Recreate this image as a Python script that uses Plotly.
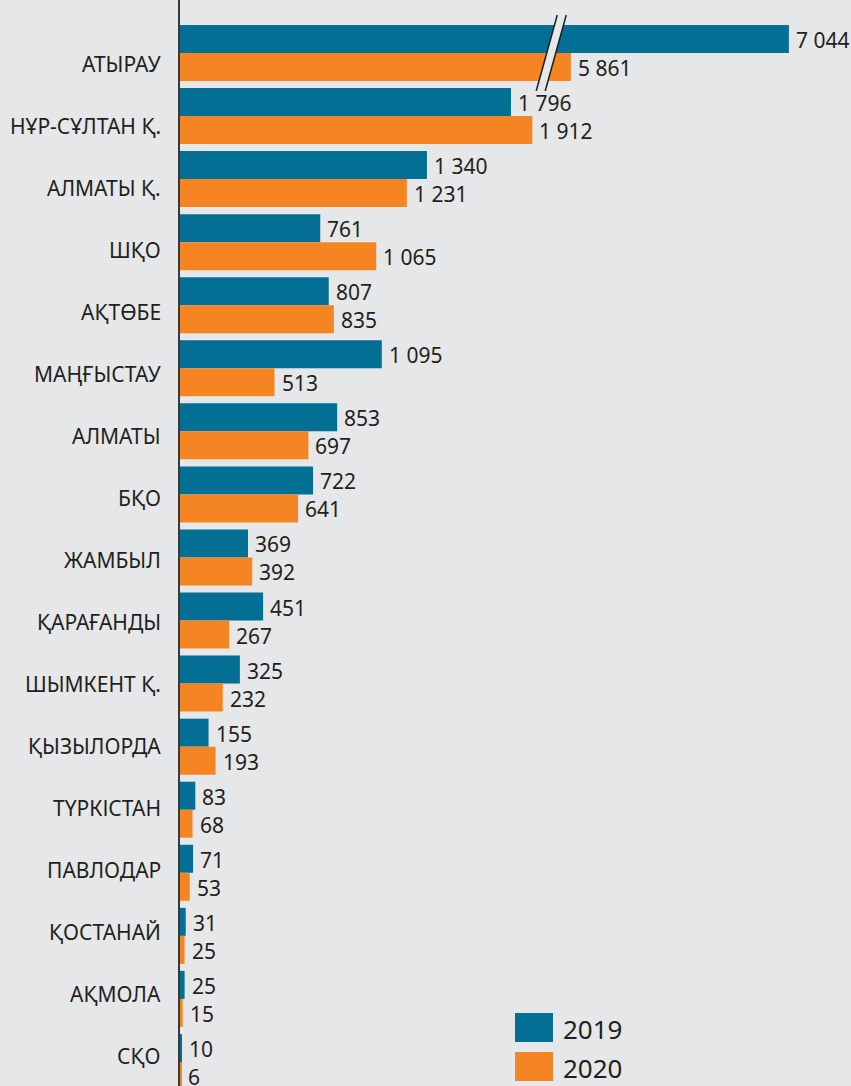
import plotly.graph_objects as go

# Regions and values by year
regions = [
    "АТЫРАУ", "НҰР-СҰЛТАН Қ.", "АЛМАТЫ Қ.", "ШҚО", "АҚТӨБЕ", "МАҢҒЫСТАУ",
    "АЛМАТЫ", "БҚО", "ЖАМБЫЛ", "ҚАРАҒАНДЫ", "ШЫМКЕНТ Қ.", "ҚЫЗЫЛОРДА",
    "ТҮРКІСТАН", "ПАВЛОДАР", "ҚОСТАНАЙ", "АҚМОЛА", "СҚО",
]
values_2019 = [7044, 1796, 1340, 761, 807, 1095, 853, 722, 369, 451, 325, 155, 83, 71, 31, 25, 10]
values_2020 = [5861, 1912, 1231, 1065, 835, 513, 697, 641, 392, 267, 232, 193, 68, 53, 25, 15, 6]
years = ["2019", "2020"]

# Broken value axis: the span between these two values is cut out
BREAK_FROM = 2000
BREAK_TO = 5740

C2019 = "#036f94"
C2020 = "#f58523"
BG = "#e6e7e9"
INK = "#231f20"
FONT = "Noto Sans"

W, H = 851, 1086
LEFT = 180
XMAX = 3641


def shown(v):
    """Position of a value on the broken axis."""
    return v if v <= BREAK_FROM else v - (BREAK_TO - BREAK_FROM)


def fmt(v):
    return f"{v:,}".replace(",", " ")


fig = go.Figure()
for name, vals, col in [(years[0], values_2019, C2019), (years[1], values_2020, C2020)]:
    fig.add_trace(go.Bar(
        name=name, orientation="h", y=regions, x=[shown(v) for v in vals],
        marker=dict(color=col, line=dict(width=0)), showlegend=False,
    ))

# Value labels next to the bar ends
annotations = []
n = len(regions)
for i in range(n):
    for vals, off in [(values_2019, -0.222), (values_2020, 0.222)]:
        annotations.append(dict(
            x=shown(vals[i]), y=i + off, xref="x", yref="y",
            text=fmt(vals[i]), showarrow=False, xanchor="left", yanchor="middle",
            xshift=5, yshift=-1, font=dict(family=FONT, size=21, color=INK),
        ))

# Region names, right-aligned left of the axis on their own vertical pitch
LABEL_TOP, LABEL_PITCH = 63.5, 62.03
for i, name in enumerate(regions):
    annotations.append(dict(
        x=0, y=1 - (LABEL_TOP + i * LABEL_PITCH) / H, xref="paper", yref="paper",
        text=name, showarrow=False, xanchor="right", yanchor="middle",
        xshift=-17, font=dict(family=FONT, size=21, color=INK),
    ))

shapes = []
# Axis break marker across the first group
px_per = (W - LEFT) / XMAX
cut = BREAK_FROM - 10
slant = 21 / px_per / 2
gap = 9 / px_per
y_top, y_bot = -0.6, 0.6
poly = (f"M {cut + slant} {y_top} L {cut + slant + gap} {y_top} "
        f"L {cut - slant + gap} {y_bot} L {cut - slant} {y_bot} Z")
shapes.append(dict(type="path", path=poly, xref="x", yref="y",
                   fillcolor=BG, line=dict(width=0), layer="above"))
for dx in (0, gap):
    shapes.append(dict(type="line", xref="x", yref="y",
                       x0=cut + slant + dx, y0=y_top, x1=cut - slant + dx, y1=y_bot,
                       line=dict(color="#231f20", width=1.6), layer="above"))

# Legend boxes drawn in pixel-based paper coordinates
def px_x(p):
    return (p - LEFT) / (W - LEFT)


def px_y(p):
    return 1 - p / H


for (y0, y1), col, label in [((1013, 1042), C2019, years[0]), ((1052, 1081), C2020, years[1])]:
    shapes.append(dict(type="rect", xref="paper", yref="paper",
                       x0=px_x(515), x1=px_x(553), y0=px_y(y1), y1=px_y(y0),
                       fillcolor=col, line=dict(width=0)))
    annotations.append(dict(x=px_x(561), y=px_y((y0 + y1) / 2 + 1), xref="paper", yref="paper",
                            text=label, showarrow=False, xanchor="left", yanchor="middle",
                            font=dict(family=FONT, size=26, color=INK)))

row_px = 63.06
first_center = 53
fig.update_layout(
    width=W, height=H,
    margin=dict(l=LEFT, r=0, t=0, b=0),
    paper_bgcolor=BG, plot_bgcolor=BG,
    barmode="group", bargap=0.112, bargroupgap=0,
    annotations=annotations, shapes=shapes,
    xaxis=dict(range=[0, XMAX], visible=False, fixedrange=True),
    yaxis=dict(
        range=[(H - first_center) / row_px, -first_center / row_px],
        showline=True, linecolor="#3a3a3a", linewidth=2,
        showgrid=False, zeroline=False, ticks="", showticklabels=False,
    ),
)

fig.write_html("out.html")
